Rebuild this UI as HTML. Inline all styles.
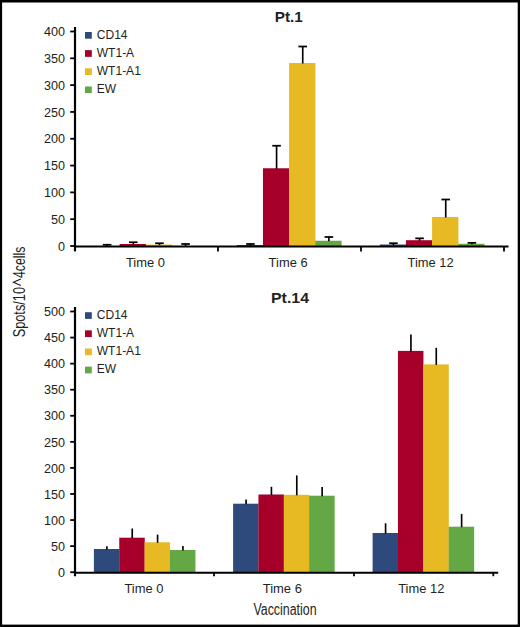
<!DOCTYPE html>
<html><head><meta charset="utf-8"><style>html,body{margin:0;padding:0;background:#fff}svg{display:block}text{font-family:"Liberation Sans",sans-serif;fill:#231f20}</style></head><body>
<svg width="520" height="627" viewBox="0 0 520 627">
<rect x="0" y="0" width="520" height="627" fill="#fff"/>
<rect x="0" y="0" width="520" height="2.5" fill="#000"/>
<rect x="0" y="0" width="2.1" height="627" fill="#000"/>
<rect x="517.7" y="0" width="2.3" height="627" fill="#000"/>
<rect x="0" y="624.6" width="520" height="2.4" fill="#000"/>
<text transform="translate(288.8,22.1) scale(1.02,1)" font-size="15" font-weight="bold" text-anchor="middle" fill="#000">Pt.1</text>
<line x1="107.13" y1="244.50" x2="107.13" y2="246.50" stroke="#000" stroke-width="1.65"/>
<line x1="102.83" y1="244.75" x2="111.43" y2="244.75" stroke="#000" stroke-width="1.75"/>
<rect x="119.65" y="244.00" width="26.30" height="2.00" fill="#A6002A"/>
<line x1="133.28" y1="242.00" x2="133.28" y2="244.50" stroke="#000" stroke-width="1.65"/>
<line x1="128.97" y1="242.25" x2="137.58" y2="242.25" stroke="#000" stroke-width="1.75"/>
<rect x="145.80" y="244.60" width="26.30" height="1.40" fill="#E7B922"/>
<line x1="159.43" y1="243.00" x2="159.43" y2="245.10" stroke="#000" stroke-width="1.65"/>
<line x1="155.12" y1="243.25" x2="163.73" y2="243.25" stroke="#000" stroke-width="1.75"/>
<line x1="185.58" y1="243.75" x2="185.58" y2="246.50" stroke="#000" stroke-width="1.65"/>
<line x1="181.28" y1="244.00" x2="189.88" y2="244.00" stroke="#000" stroke-width="1.75"/>
<rect x="236.80" y="245.00" width="26.30" height="1.00" fill="#2E4A7D"/>
<line x1="250.43" y1="243.75" x2="250.43" y2="245.50" stroke="#000" stroke-width="1.65"/>
<line x1="246.12" y1="244.00" x2="254.73" y2="244.00" stroke="#000" stroke-width="1.75"/>
<rect x="262.95" y="168.25" width="26.30" height="77.75" fill="#A6002A"/>
<line x1="276.58" y1="145.50" x2="276.58" y2="168.75" stroke="#000" stroke-width="1.65"/>
<line x1="272.28" y1="145.75" x2="280.88" y2="145.75" stroke="#000" stroke-width="1.75"/>
<rect x="289.10" y="63.00" width="26.30" height="183.00" fill="#E7B922"/>
<line x1="302.73" y1="46.25" x2="302.73" y2="63.50" stroke="#000" stroke-width="1.65"/>
<line x1="298.43" y1="46.50" x2="307.03" y2="46.50" stroke="#000" stroke-width="1.75"/>
<rect x="315.25" y="240.75" width="26.30" height="5.25" fill="#63A844"/>
<line x1="328.88" y1="236.75" x2="328.88" y2="241.25" stroke="#000" stroke-width="1.65"/>
<line x1="324.57" y1="237.00" x2="333.18" y2="237.00" stroke="#000" stroke-width="1.75"/>
<rect x="379.80" y="244.50" width="26.30" height="1.50" fill="#2E4A7D"/>
<line x1="393.43" y1="243.00" x2="393.43" y2="245.00" stroke="#000" stroke-width="1.65"/>
<line x1="389.12" y1="243.25" x2="397.73" y2="243.25" stroke="#000" stroke-width="1.75"/>
<rect x="405.95" y="240.20" width="26.30" height="5.80" fill="#A6002A"/>
<line x1="419.58" y1="238.10" x2="419.58" y2="240.70" stroke="#000" stroke-width="1.65"/>
<line x1="415.28" y1="238.35" x2="423.88" y2="238.35" stroke="#000" stroke-width="1.75"/>
<rect x="432.10" y="217.00" width="26.30" height="29.00" fill="#E7B922"/>
<line x1="445.73" y1="199.25" x2="445.73" y2="217.50" stroke="#000" stroke-width="1.65"/>
<line x1="441.43" y1="199.50" x2="450.03" y2="199.50" stroke="#000" stroke-width="1.75"/>
<rect x="458.25" y="243.80" width="26.30" height="2.20" fill="#63A844"/>
<line x1="471.88" y1="242.60" x2="471.88" y2="244.30" stroke="#000" stroke-width="1.65"/>
<line x1="467.57" y1="242.85" x2="476.18" y2="242.85" stroke="#000" stroke-width="1.75"/>
<line x1="75" y1="27" x2="75" y2="251.4" stroke="#000" stroke-width="2.2"/>
<line x1="73.9" y1="246.45" x2="508.5" y2="246.45" stroke="#000" stroke-width="2.05"/>
<line x1="218" y1="246" x2="218" y2="251.4" stroke="#000" stroke-width="1.8"/>
<line x1="361" y1="246" x2="361" y2="251.4" stroke="#000" stroke-width="1.8"/>
<line x1="504" y1="246" x2="504" y2="251.4" stroke="#000" stroke-width="1.8"/>
<line x1="70.2" y1="246.00" x2="75" y2="246.00" stroke="#000" stroke-width="1.8"/>
<text transform="translate(65,250.70) scale(0.955,1)" font-size="13.2" text-anchor="end">0</text>
<line x1="70.2" y1="219.19" x2="75" y2="219.19" stroke="#000" stroke-width="1.8"/>
<text transform="translate(65,223.89) scale(0.955,1)" font-size="13.2" text-anchor="end">50</text>
<line x1="70.2" y1="192.38" x2="75" y2="192.38" stroke="#000" stroke-width="1.8"/>
<text transform="translate(65,197.07) scale(0.955,1)" font-size="13.2" text-anchor="end">100</text>
<line x1="70.2" y1="165.56" x2="75" y2="165.56" stroke="#000" stroke-width="1.8"/>
<text transform="translate(65,170.26) scale(0.955,1)" font-size="13.2" text-anchor="end">150</text>
<line x1="70.2" y1="138.75" x2="75" y2="138.75" stroke="#000" stroke-width="1.8"/>
<text transform="translate(65,143.45) scale(0.955,1)" font-size="13.2" text-anchor="end">200</text>
<line x1="70.2" y1="111.94" x2="75" y2="111.94" stroke="#000" stroke-width="1.8"/>
<text transform="translate(65,116.64) scale(0.955,1)" font-size="13.2" text-anchor="end">250</text>
<line x1="70.2" y1="85.12" x2="75" y2="85.12" stroke="#000" stroke-width="1.8"/>
<text transform="translate(65,89.83) scale(0.955,1)" font-size="13.2" text-anchor="end">300</text>
<line x1="70.2" y1="58.31" x2="75" y2="58.31" stroke="#000" stroke-width="1.8"/>
<text transform="translate(65,63.01) scale(0.955,1)" font-size="13.2" text-anchor="end">350</text>
<line x1="70.2" y1="31.50" x2="75" y2="31.50" stroke="#000" stroke-width="1.8"/>
<text transform="translate(65,36.20) scale(0.955,1)" font-size="13.2" text-anchor="end">400</text>
<text transform="translate(145.4,267.2) scale(0.972,1)" font-size="13.3" text-anchor="middle">Time 0</text>
<text transform="translate(288.1,267.2) scale(0.972,1)" font-size="13.3" text-anchor="middle">Time 6</text>
<text transform="translate(430.6,267.2) scale(0.972,1)" font-size="13.3" text-anchor="middle">Time 12</text>
<rect x="85" y="32.00" width="6.8" height="6.7" fill="#2E4A7D"/>
<text x="96.8" y="38.70" font-size="12">CD14</text>
<rect x="85" y="50.15" width="6.8" height="6.7" fill="#A6002A"/>
<text x="96.8" y="56.85" font-size="12">WT1-A</text>
<rect x="85" y="68.30" width="6.8" height="6.7" fill="#E7B922"/>
<text x="96.8" y="75.00" font-size="12">WT1-A1</text>
<rect x="85" y="86.45" width="6.8" height="6.7" fill="#63A844"/>
<text x="96.8" y="93.15" font-size="12">EW</text>
<text transform="translate(290,302.9) scale(1.06,1)" font-size="15" font-weight="bold" text-anchor="middle" fill="#000">Pt.14</text>
<rect x="93.90" y="549.00" width="25.50" height="23.20" fill="#2E4A7D"/>
<line x1="106.87" y1="546.30" x2="106.87" y2="549.50" stroke="#000" stroke-width="1.65"/>
<rect x="119.25" y="537.70" width="25.50" height="34.50" fill="#A6002A"/>
<line x1="132.23" y1="528.50" x2="132.23" y2="538.20" stroke="#000" stroke-width="1.65"/>
<rect x="144.60" y="542.30" width="25.50" height="29.90" fill="#E7B922"/>
<line x1="157.58" y1="534.60" x2="157.58" y2="542.80" stroke="#000" stroke-width="1.65"/>
<rect x="169.95" y="550.00" width="25.50" height="22.20" fill="#63A844"/>
<line x1="182.93" y1="546.00" x2="182.93" y2="550.50" stroke="#000" stroke-width="1.65"/>
<rect x="233.10" y="503.70" width="25.50" height="68.50" fill="#2E4A7D"/>
<line x1="246.08" y1="499.40" x2="246.08" y2="504.20" stroke="#000" stroke-width="1.65"/>
<rect x="258.45" y="494.50" width="25.50" height="77.70" fill="#A6002A"/>
<line x1="271.43" y1="486.80" x2="271.43" y2="495.00" stroke="#000" stroke-width="1.65"/>
<rect x="283.80" y="494.80" width="25.50" height="77.40" fill="#E7B922"/>
<line x1="296.78" y1="475.40" x2="296.78" y2="495.30" stroke="#000" stroke-width="1.65"/>
<rect x="309.15" y="495.70" width="25.50" height="76.50" fill="#63A844"/>
<line x1="322.13" y1="487.00" x2="322.13" y2="496.20" stroke="#000" stroke-width="1.65"/>
<rect x="372.60" y="533.00" width="25.50" height="39.20" fill="#2E4A7D"/>
<line x1="385.58" y1="523.30" x2="385.58" y2="533.50" stroke="#000" stroke-width="1.65"/>
<rect x="397.95" y="350.90" width="25.50" height="221.30" fill="#A6002A"/>
<line x1="410.93" y1="334.60" x2="410.93" y2="351.40" stroke="#000" stroke-width="1.65"/>
<rect x="423.30" y="364.40" width="25.50" height="207.80" fill="#E7B922"/>
<line x1="436.28" y1="347.80" x2="436.28" y2="364.90" stroke="#000" stroke-width="1.65"/>
<rect x="448.65" y="526.70" width="25.50" height="45.50" fill="#63A844"/>
<line x1="461.63" y1="513.90" x2="461.63" y2="527.20" stroke="#000" stroke-width="1.65"/>
<line x1="75" y1="307" x2="75" y2="576.2" stroke="#000" stroke-width="2.2"/>
<line x1="73.9" y1="572.6500000000001" x2="498.2" y2="572.6500000000001" stroke="#000" stroke-width="2.05"/>
<line x1="214" y1="572.2" x2="214" y2="576.2" stroke="#000" stroke-width="1.8"/>
<line x1="354" y1="572.2" x2="354" y2="576.2" stroke="#000" stroke-width="1.8"/>
<line x1="493.3" y1="572.2" x2="493.3" y2="576.2" stroke="#000" stroke-width="1.8"/>
<line x1="70.2" y1="572.20" x2="75" y2="572.20" stroke="#000" stroke-width="1.8"/>
<text transform="translate(65,576.90) scale(0.955,1)" font-size="13.2" text-anchor="end">0</text>
<line x1="70.2" y1="546.13" x2="75" y2="546.13" stroke="#000" stroke-width="1.8"/>
<text transform="translate(65,550.83) scale(0.955,1)" font-size="13.2" text-anchor="end">50</text>
<line x1="70.2" y1="520.06" x2="75" y2="520.06" stroke="#000" stroke-width="1.8"/>
<text transform="translate(65,524.76) scale(0.955,1)" font-size="13.2" text-anchor="end">100</text>
<line x1="70.2" y1="493.99" x2="75" y2="493.99" stroke="#000" stroke-width="1.8"/>
<text transform="translate(65,498.69) scale(0.955,1)" font-size="13.2" text-anchor="end">150</text>
<line x1="70.2" y1="467.92" x2="75" y2="467.92" stroke="#000" stroke-width="1.8"/>
<text transform="translate(65,472.62) scale(0.955,1)" font-size="13.2" text-anchor="end">200</text>
<line x1="70.2" y1="441.85" x2="75" y2="441.85" stroke="#000" stroke-width="1.8"/>
<text transform="translate(65,446.55) scale(0.955,1)" font-size="13.2" text-anchor="end">250</text>
<line x1="70.2" y1="415.78" x2="75" y2="415.78" stroke="#000" stroke-width="1.8"/>
<text transform="translate(65,420.48) scale(0.955,1)" font-size="13.2" text-anchor="end">300</text>
<line x1="70.2" y1="389.71" x2="75" y2="389.71" stroke="#000" stroke-width="1.8"/>
<text transform="translate(65,394.41) scale(0.955,1)" font-size="13.2" text-anchor="end">350</text>
<line x1="70.2" y1="363.64" x2="75" y2="363.64" stroke="#000" stroke-width="1.8"/>
<text transform="translate(65,368.34) scale(0.955,1)" font-size="13.2" text-anchor="end">400</text>
<line x1="70.2" y1="337.57" x2="75" y2="337.57" stroke="#000" stroke-width="1.8"/>
<text transform="translate(65,342.27) scale(0.955,1)" font-size="13.2" text-anchor="end">450</text>
<line x1="70.2" y1="311.50" x2="75" y2="311.50" stroke="#000" stroke-width="1.8"/>
<text transform="translate(65,316.20) scale(0.955,1)" font-size="13.2" text-anchor="end">500</text>
<text transform="translate(143.9,593.1) scale(0.972,1)" font-size="13.3" text-anchor="middle">Time 0</text>
<text transform="translate(282.3,593.1) scale(0.972,1)" font-size="13.3" text-anchor="middle">Time 6</text>
<text transform="translate(421.3,593.1) scale(0.972,1)" font-size="13.3" text-anchor="middle">Time 12</text>
<rect x="85" y="312.20" width="6.8" height="6.7" fill="#2E4A7D"/>
<text x="96.8" y="318.90" font-size="12">CD14</text>
<rect x="85" y="330.35" width="6.8" height="6.7" fill="#A6002A"/>
<text x="96.8" y="337.05" font-size="12">WT1-A</text>
<rect x="85" y="348.50" width="6.8" height="6.7" fill="#E7B922"/>
<text x="96.8" y="355.20" font-size="12">WT1-A1</text>
<rect x="85" y="366.65" width="6.8" height="6.7" fill="#63A844"/>
<text x="96.8" y="373.35" font-size="12">EW</text>
<g transform="translate(24.9,0)" font-size="17.2" fill="#1a1a1a">
<text transform="translate(0,287.0) rotate(-90) scale(0.742,1)" text-anchor="end" fill="#1a1a1a">Spots/10</text>
<text transform="translate(0,278.0) rotate(-90) scale(0.715,1)" text-anchor="start" fill="#1a1a1a">4cells</text>
</g>
<polyline points="20.8,285.6 13.4,282.25 20.8,278.9" fill="none" stroke="#1a1a1a" stroke-width="1.1"/>
<text transform="translate(285,614.8) scale(0.775,1)" font-size="16" text-anchor="middle" fill="#1a1a1a">Vaccination</text>
</svg></body></html>
